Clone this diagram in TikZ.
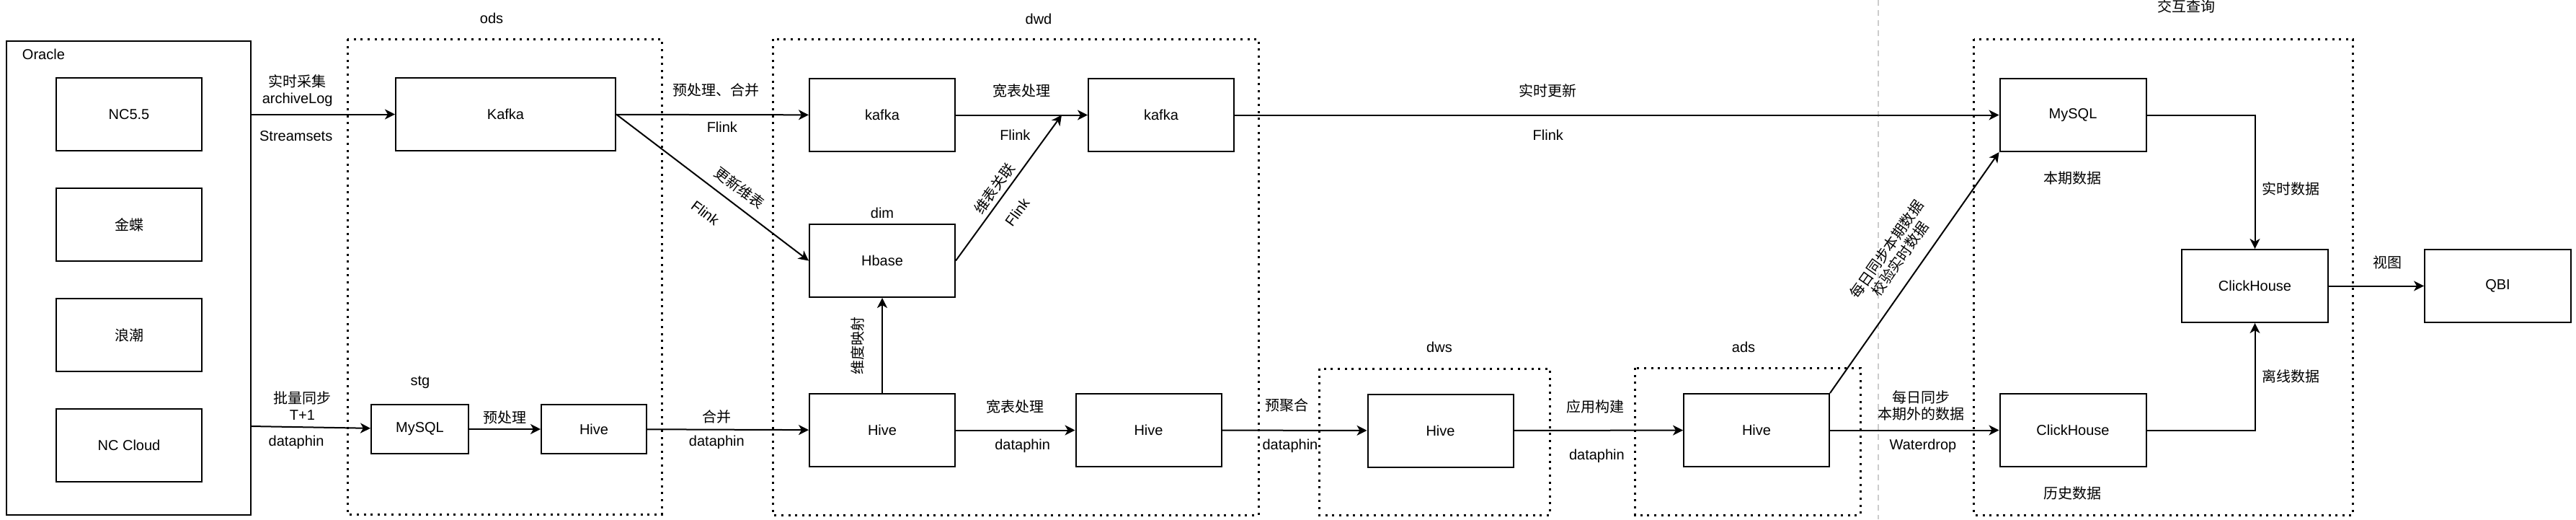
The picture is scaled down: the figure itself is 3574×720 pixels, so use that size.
\documentclass[tikz,border=0pt]{standalone}
\usepackage{fontspec}
\setmainfont{Liberation Sans}
\newfontfamily\cjk{Noto Sans CJK SC}
\usetikzlibrary{arrows.meta,positioning,calc}

\begin{document}
\begin{tikzpicture}[x=0.5pt, y=-0.5pt, line width=1pt,
  >={Stealth[length=7pt, width=7pt, inset=2pt]},
  font=\fontsize{10}{11.5}\selectfont,
  main/.style = {draw, minimum width=101pt, minimum height=50.5pt, inner sep=0pt},
  grp/.style = {line width=1.5pt, dash pattern=on 1.5pt off 3.3pt},
  lbl/.style = {inner sep=0pt, align=center},
  cn/.style = {font=\fontsize{10}{11.5}\selectfont\cjk}]
\useasboundingbox (0,0) rectangle (3574,720);

% source systems
\node[main, minimum width=169.5pt, minimum height=328.5pt] (oracle) at (178.5,385.5) {};
\node[inner sep=0pt, anchor=west] (oralbl) at (30,75) {Oracle};
\node[main] (nc55) at (179,158.5) {NC5.5};
\node[main, cn, below=25pt of nc55] (jd) {金蝶};
\node[main, cn, below=25pt of jd] (lc) {浪潮};
\node[main, below=25pt of lc] (ncc) {NC Cloud};

% ods
\draw[grp] (482,54) rectangle (918.5,713);
\node (odslbl) at (682,25) {ods};
\node[main, minimum width=152.5pt] (kafka) at (701.5,158.5) {Kafka};
\node (stglbl) at (583,530) {stg};
\node[main, minimum width=67.5pt, minimum height=34pt] (stgsql) at (582.5,595) {MySQL};
\node[main, minimum width=73pt, minimum height=34pt] (stghive) at (824,595) {Hive};

% dwd
\draw[grp] (1072,54) rectangle (1746,714);
\node (dwdlbl) at (1441,26) {dwd};
\node[main] (kafka1) at (1224,159.5) {kafka};
\node[main] (kafka2) at (1611,159.5) {kafka};
\node (dimlbl) at (1224,295) {dim};
\node[main] (hbase) at (1224,361.5) {Hbase};
\node[main] (dwdhive1) at (1224,596.5) {Hive};
\node[main] (dwdhive2) at (1593.5,596.5) {Hive};

% dws / ads
\draw[grp] (1830.5,511) rectangle (2150.5,714);
\node (dwslbl) at (1997,481) {dws};
\node[main] (dwshive) at (1998.5,597) {Hive};
\draw[grp] (2268.5,510) rectangle (2581,714);
\node (adslbl) at (2419,481) {ads};
\node[main] (adshive) at (2437,596.5) {Hive};

\draw[gray!40, line width=0.6pt, dash pattern=on 4pt off 3pt] (2606,0) -- (2606,720);

% query
\draw[grp] (2738.5,54) rectangle (3264.5,714);
\node[cn] (qrylbl) at (3033,9) {交互查询};
\node[main, minimum width=101.5pt] (mysql) at (2876,159.5) {MySQL};
\node[cn] (curlbl) at (2875,247) {本期数据};
\node[main, minimum width=101.5pt] (chhist) at (2876,596.5) {ClickHouse};
\node[cn] (hislbl) at (2875,684) {历史数据};
\node[main, minimum width=101.5pt] (ch) at (3128.5,396.5) {ClickHouse};
\node[main, minimum width=101.5pt] (qbi) at (3465.5,396.5) {QBI};

% connectors
\coordinate (orab) at (348,591);
\coordinate (hj) at ($(kafka2.west)+(-36,0)$);
\draw[->] (oracle.east |- kafka) -- node[lbl, pos=.32, yshift=16.5pt] {{\cjk 实时采集}\\archiveLog} node[lbl, pos=.31, yshift=-15.25pt] {Streamsets} (kafka);
\draw[->] (orab) -- node[lbl, pos=.43, yshift=15pt] {{\cjk 批量同步}\\T+1} node[lbl, pos=.38, yshift=-10.5pt] {dataphin} (stgsql);
\draw[->] (stgsql) -- node[lbl, cn, midway, yshift=8pt] {预处理} (stghive);
\draw[->] (stghive) -- node[lbl, cn, pos=.43, yshift=8.75pt] {合并} node[lbl, pos=.43, yshift=-8.75pt] {dataphin} (dwdhive1);
\draw[->] (kafka) -- node[lbl, cn, pos=.52, yshift=17pt] {预处理、合并} node[lbl, pos=.55, yshift=-8.5pt] {Flink} (kafka1);
\draw[->] (kafka.east) -- node[lbl, cn, sloped, pos=.59, yshift=11pt] {更新维表} node[lbl, sloped, pos=.54, yshift=-17pt] {Flink} (hbase.west);
\draw[->] (kafka1) -- node[lbl, cn, midway, yshift=16.75pt] {宽表处理} node[lbl, pos=.45, yshift=-14pt] {Flink} (kafka2);
\draw[->] (hbase.east) -- node[lbl, cn, sloped, pos=.45, yshift=7.8pt] {维表关联} node[lbl, sloped, pos=.42, yshift=-14.5pt] {Flink} (hj);
\draw[->] (dwdhive1) -- node[lbl, cn, sloped, midway, yshift=17pt] {维度映射} (hbase);
\draw[->] (dwdhive1) -- node[lbl, cn, midway, yshift=16.25pt] {宽表处理} node[lbl, pos=.56, yshift=-10.75pt] {dataphin} (dwdhive2);
\draw[->] (dwdhive2) -- node[lbl, cn, pos=.45, yshift=17.5pt] {预聚合} node[lbl, pos=.47, yshift=-10.75pt] {dataphin} (dwshive);
\draw[->] (dwshive) -- node[lbl, cn, pos=.48, yshift=16.5pt] {应用构建} node[lbl, pos=.49, yshift=-17.75pt] {dataphin} (adshive);
\draw[->] (kafka2) -- node[lbl, cn, pos=.41, yshift=17pt] {实时更新} node[lbl, pos=.41, yshift=-13.75pt] {Flink} (mysql);
\draw[->] (adshive.north east) -- node[lbl, cn, sloped, pos=.51, yshift=19.5pt] {每日同步本期数据\\校验实时数据} (mysql.south west);
\draw[->] (adshive) -- node[lbl, cn, pos=.54, yshift=17pt] {每日同步\\本期外的数据} node[lbl, pos=.55, yshift=-10.75pt] {Waterdrop} (chhist);
\draw[->] (mysql) -| node[lbl, cn, pos=.775, xshift=25pt] {实时数据} (ch);
\draw[->] (chhist) -| node[lbl, cn, pos=.75, xshift=25pt] {离线数据} (ch);
\draw[->] (ch) -- node[lbl, cn, pos=.62, yshift=16.25pt] {视图} (qbi);
\end{tikzpicture}
\end{document}
